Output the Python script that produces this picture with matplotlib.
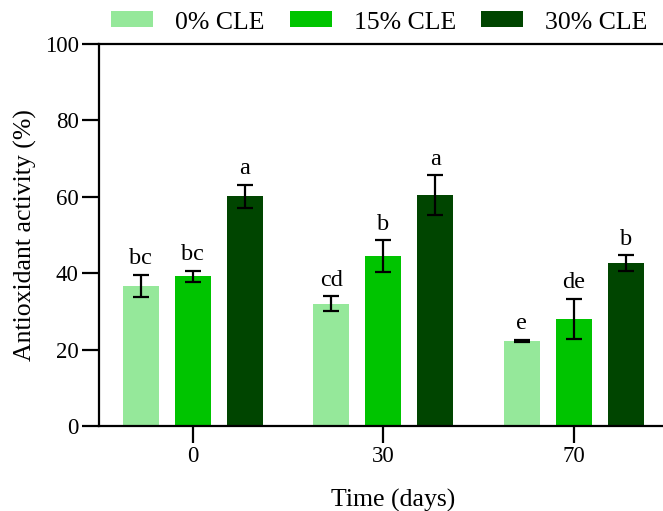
import matplotlib
matplotlib.use("Agg")
import matplotlib.pyplot as plt
import numpy as np

plt.rcParams['font.family'] = ['Liberation Serif', 'DejaVu Serif']

times = ["0", "30", "70"]
series = ["0% CLE", "15% CLE", "30% CLE"]
means = {
    "0% CLE":  [36.7, 32.0, 22.3],
    "15% CLE": [39.2, 44.4, 28.1],
    "30% CLE": [60.1, 60.4, 42.7],
}
errors = {
    "0% CLE":  [2.9, 2.0, 0.3],
    "15% CLE": [1.4, 4.2, 5.2],
    "30% CLE": [3.1, 5.2, 2.0],
}
letters = {
    "0% CLE":  ["bc", "cd", "e"],
    "15% CLE": ["bc", "b", "de"],
    "30% CLE": ["a", "a", "b"],
}
colors = ["#95E89A", "#00C400", "#004500"]

W, H = 663, 511
fig = plt.figure(figsize=(W / 100, H / 100), dpi=100)
unit = 190.5
xmin, xmax = -0.493, 2.6
ax = fig.add_axes([99 / W, (H - 426) / H, (xmax - xmin) * unit / W, 382 / H])

x = np.arange(len(times))
width = 0.189
step = 0.273
for i, s in enumerate(series):
    pos = x + (i - 1) * step
    ax.bar(pos, means[s], width, color=colors[i], label=s, zorder=2)
    ax.errorbar(pos, means[s], yerr=errors[s], fmt='none', ecolor='black',
                elinewidth=1.6, capsize=6, capthick=1.6, zorder=3)
    for p, m, e, t in zip(pos, means[s], errors[s], letters[s]):
        ax.annotate(t, (p, m + e), xytext=(0, 4), textcoords='offset points',
                    ha='center', va='bottom', fontsize=17.5)

ax.set_xlim(xmin, xmax)
ax.set_ylim(0, 100)
ax.set_yticks([0, 20, 40, 60, 80, 100])
ax.set_xticks(x)
ax.set_xticklabels(times)
ax.tick_params(axis='both', direction='out', length=12.5, width=1.6, labelsize=16.5, pad=2)
ax.spines['right'].set_visible(False)
for sp in ['left', 'bottom', 'top']:
    ax.spines[sp].set_linewidth(1.6)
ax.set_ylabel("Antioxidant activity (%)", fontsize=18.5, labelpad=6)
ax.set_xlabel("Time (days)", fontsize=18.5, labelpad=16)

fig.legend(loc='center', bbox_to_anchor=(0.572, 0.956), ncol=3, frameon=False,
           fontsize=18.5, handlelength=1.63, handleheight=0.58, handletextpad=0.86,
           columnspacing=0.97)

fig.savefig("out.png", dpi=100)
